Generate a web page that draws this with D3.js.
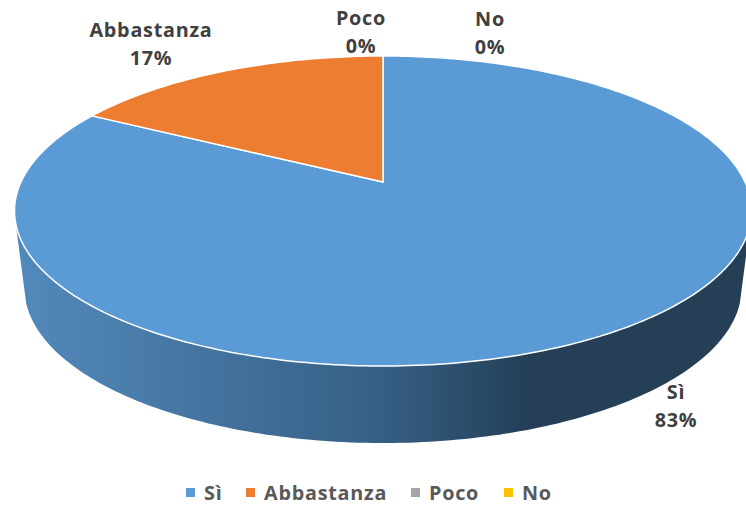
<!DOCTYPE html>
<html>
<head>
<meta charset="utf-8">
<script src="https://d3js.org/d3.v7.min.js"></script>
<style>
  html, body { margin: 0; padding: 0; background: #fff; }
  svg { display: block; }
  text { font-family: "Open Sans", sans-serif; font-weight: 700; font-size: 19.8px; letter-spacing: 0.75px; }
</style>
</head>
<body>
<div id="chart"></div>
<script>
(function(d3) {
  'use strict';

  var categories = ['Sì', 'Abbastanza', 'Poco', 'No'];
  var values = [83, 17, 0, 0];
  var colors = ['#5b9bd5', '#ed7d31', '#a5a5a5', '#ffc000'];

  var width = 746;
  var height = 506;

  // tilted disc: projective view of a unit circle
  var cx = 383, cy = 182;
  var xScale = 362, yScale = 149.6, tilt = -0.187;
  var depth = 77, bottomShrink = 0.973;

  function top(angle) {
    var u = Math.sin(angle), v = -Math.cos(angle);
    var d = 1 + tilt * v;
    return [cx + xScale * u / d, cy + yScale * v / d];
  }

  function bottom(angle) {
    var p = top(angle);
    return [cx + (p[0] - cx) * bottomShrink, p[1] + depth];
  }

  var line = d3.line();

  function rim(fn, a0, a1) {
    var n = Math.max(2, Math.ceil(Math.abs(a1 - a0) * 60));
    return d3.range(n + 1).map(function(i) {
      return fn(a0 + (a1 - a0) * i / n);
    });
  }

  var svg = d3.select('#chart')
  .append('svg')
  .attr('width', width)
  .attr('height', height);

  // side wall shading runs from left to right
  var shade = d3.scaleLinear()
  .domain([15, 150, 380, 530, 746])
  .range(['#5289bc', '#487ba8', '#365f85', '#243f56', '#243f56']);

  var grad = svg.append('defs').append('linearGradient')
  .attr('id', 'wall')
  .attr('gradientUnits', 'userSpaceOnUse')
  .attr('x1', 15).attr('x2', 746)
  .attr('y1', 0).attr('y2', 0);

  grad.selectAll('stop')
  .data(shade.domain())
  .enter()
  .append('stop')
  .attr('offset', function(d) { return (d - 15) / (746 - 15); })
  .attr('stop-color', function(d) { return shade(d); });

  svg.append('path')
  .attr('d', line(rim(top, Math.PI * 0.57, Math.PI * 1.43).concat(rim(bottom, Math.PI * 1.41, Math.PI * 0.59))) + 'Z')
  .attr('fill', 'url(#wall)');

  var pie = d3.pie().value(function(d) { return d; }).sort(null);
  var slices = pie(values);

  svg.selectAll('path.slice')
  .data(slices)
  .enter()
  .append('path')
  .attr('class', 'slice')
  .attr('d', function(d) {
    if (d.endAngle - d.startAngle === 0) return null;
    return line([[cx, cy]].concat(rim(top, d.startAngle, d.endAngle))) + 'Z';
  })
  .attr('fill', function(d, i) { return colors[i]; })
  .attr('stroke', '#fff')
  .attr('stroke-width', 1.5)
  .attr('stroke-linejoin', 'round');

  // data labels
  var labelAt = [[676, 392], [151, 30], [361, 18], [490, 19]];
  var labelStep = 28;
  var labels = svg.selectAll('g.label')
  .data(categories)
  .enter()
  .append('g')
  .attr('class', 'label')
  .attr('transform', function(d, i) {
    return 'translate(' + labelAt[i][0] + ',' + labelAt[i][1] + ')';
  })
  .attr('text-anchor', 'middle')
  .attr('fill', '#404040');

  labels.append('text')
  .attr('y', 7)
  .text(function(d) { return d; });

  labels.append('text')
  .attr('y', 7 + labelStep)
  .text(function(d, i) { return values[i] + '%'; });

  // legend
  var legendBox = [186, 246, 411, 504];
  var legendSize = 9;
  var legend = svg.selectAll('g.legend')
  .data(categories)
  .enter()
  .append('g')
  .attr('class', 'legend')
  .attr('transform', function(d, i) {
    return 'translate(' + legendBox[i] + ',488)';
  });

  legend.append('rect')
  .attr('width', legendSize)
  .attr('height', legendSize)
  .attr('fill', function(d, i) { return colors[i]; });

  legend.append('text')
  .attr('x', legendSize + 9)
  .attr('y', 12)
  .attr('fill', '#595959')
  .text(function(d) { return d; });

})(window.d3);
</script>
</body>
</html>
